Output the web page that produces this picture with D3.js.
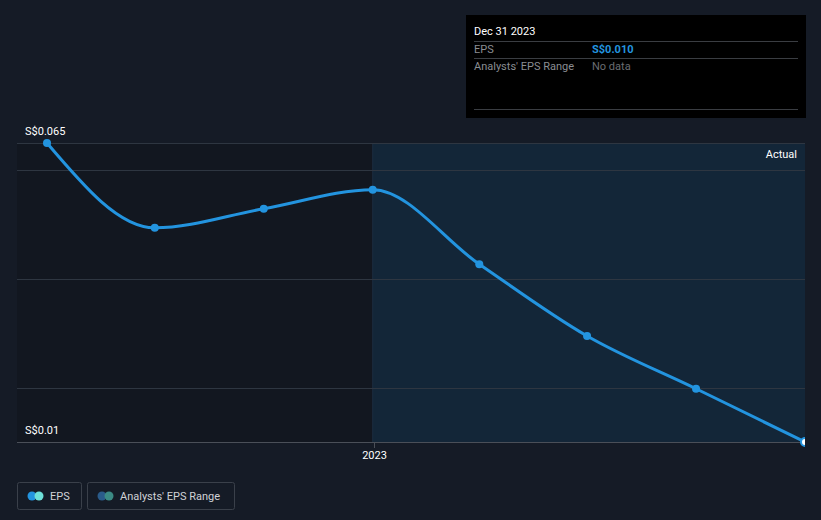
<!DOCTYPE html>
<html><head><meta charset="utf-8">
<script src="https://cdn.jsdelivr.net/npm/d3@7"></script>
<style>
body{margin:0;background:#151b26;font-family:Roboto,"Noto Sans",sans-serif;}
svg{display:block}
</style></head><body>
<svg id="c" width="821" height="520"></svg>
<script>
const dates = ["2022-03-31","2022-06-30","2022-09-30","2022-12-31","2023-03-31","2023-06-30","2023-09-30","2023-12-31"];
const eps = [0.065, 0.0494, 0.0529, 0.0564, 0.0427, 0.0295, 0.0198, 0.010];
const gridValues = [0.065, 0.06, 0.04, 0.02, 0.01];
const yLabels = [{v:0.065,t:"S$0.065"},{v:0.01,t:"S$0.01"}];
const xTicks = [{d:"2023-01-01",t:"2023"}];
const tooltip = {date:"Dec 31 2023", eps:"S$0.010", range:"No data"};

const parse = d3.timeParse("%Y-%m-%d");
const data = dates.map((d,i)=>({d:parse(d),v:eps[i]}));
const svg = d3.select("#c");
const L=17, R=805, T=143, B=442;
const x = d3.scaleTime().domain([parse("2022-03-31"),parse("2023-12-31")]).range([47,805]);
const y = d3.scaleLinear().domain([0.01,0.065]).range([B,T]);
const splitX = x(parse("2022-12-31"));

svg.append("rect").attr("x",L).attr("y",T).attr("width",splitX-L).attr("height",B-T).attr("fill","#121720");
svg.append("rect").attr("x",splitX).attr("y",T).attr("width",R-splitX).attr("height",B-T).attr("fill","#132638");
svg.append("line").attr("x1",splitX).attr("x2",splitX).attr("y1",T).attr("y2",B).attr("stroke","#1c2d3f").attr("stroke-width",1);

svg.selectAll(".g").data(gridValues).enter().append("line")
  .attr("x1",L).attr("x2",R).attr("y1",d=>Math.round(y(d))+0.5).attr("y2",d=>Math.round(y(d))+0.5)
  .attr("stroke",d=>d===0.01?"#4a4f58":"#2e3641").attr("stroke-width",1);

svg.selectAll(".yl").data(yLabels).enter().append("text")
  .attr("x",25).attr("y",d=>y(d.v)-8).attr("fill","#ffffff").attr("font-size",11).text(d=>d.t);

xTicks.forEach(t=>{
  const xx = Math.round(x(parse(t.d)))+0.5;
  svg.append("line").attr("x1",xx).attr("x2",xx).attr("y1",B).attr("y2",B+6).attr("stroke","#4a4f58");
  svg.append("text").attr("x",xx).attr("y",B+17).attr("text-anchor","middle").attr("fill","#ffffff").attr("font-size",11).text(t.t);
});

svg.append("text").attr("x",797).attr("y",158).attr("text-anchor","end").attr("fill","#ffffff").attr("font-size",11).text("Actual");

svg.append("clipPath").attr("id","clip").append("rect").attr("x",0).attr("y",0).attr("width",R).attr("height",520);
const g = svg.append("g").attr("clip-path","url(#clip)");
const line = d3.line().x(d=>x(d.d)).y(d=>y(d.v)).curve(d3.curveMonotoneX);
g.append("path").datum(data).attr("d",line).attr("fill","none").attr("stroke","#2394df").attr("stroke-width",3);
g.selectAll(".p").data(data).enter().append("circle")
  .attr("cx",d=>x(d.d)).attr("cy",d=>y(d.v)).attr("r",(d,i)=>i===data.length-1?4:4)
  .attr("fill",(d,i)=>i===data.length-1?"#ffffff":"#2394df")
  .attr("stroke","#2394df").attr("stroke-width",(d,i)=>i===data.length-1?2:0);

// tooltip
const tt = svg.append("g");
tt.append("rect").attr("x",466).attr("y",15).attr("width",340).attr("height",103).attr("fill","#000000");
tt.append("text").attr("x",474).attr("y",35).attr("fill","#ffffff").attr("font-size",11).text(tooltip.date);
[41.5,58.5,109.5].forEach(yy=>tt.append("line").attr("x1",474).attr("x2",798).attr("y1",yy).attr("y2",yy).attr("stroke","#3a3d42"));
tt.append("text").attr("x",474).attr("y",53).attr("fill","#8a8d92").attr("font-size",11).text("EPS");
tt.append("text").attr("x",592).attr("y",53).attr("fill","#2394df").attr("font-size",11).attr("font-weight","bold").text(tooltip.eps);
tt.append("text").attr("x",474).attr("y",70).attr("fill","#8a8d92").attr("font-size",11).text("Analysts' EPS Range");
tt.append("text").attr("x",592).attr("y",70).attr("fill","#6a6d72").attr("font-size",11).text(tooltip.range);

// legend
const leg = [{t:"EPS",c1:"#2394df",c2:"#6ee0d8",x:17,w:64},{t:"Analysts' EPS Range",c1:"#2a5b8a",c2:"#3b8a84",x:87,w:147}];
leg.forEach(l=>{
  const lg = svg.append("g");
  lg.append("rect").attr("x",l.x+0.5).attr("y",482.5).attr("width",l.w).attr("height",27).attr("rx",2).attr("fill","none").attr("stroke","#3a404a");
  lg.append("circle").attr("cx",l.x+15).attr("cy",496).attr("r",4.5).attr("fill",l.c1);
  lg.append("circle").attr("cx",l.x+22).attr("cy",496).attr("r",4.5).attr("fill",l.c2);
  lg.append("text").attr("x",l.x+33).attr("y",500).attr("fill","#d0d2d6").attr("font-size",11).text(l.t);
});
</script></body></html>
